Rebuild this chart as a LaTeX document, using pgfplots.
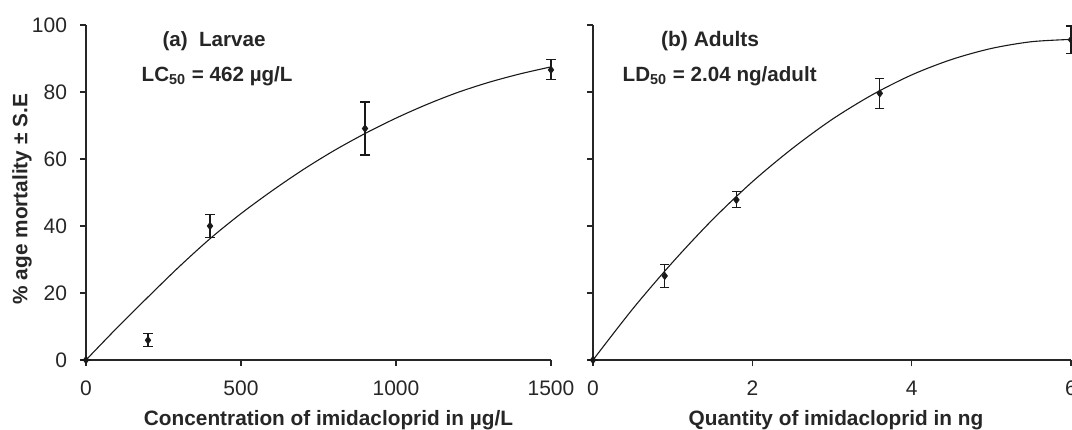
\documentclass[border=0pt]{standalone}
\usepackage{pgfplots}
\pgfplotsset{compat=1.18}
\usepackage{fontspec}
\setmainfont{Liberation Sans}

\newcommand\lblfont{\bfseries\fontsize{10.4bp}{12bp}\selectfont}
\pgfplotsset{
  mort/.style={
    scale only axis,
    axis lines*=left,
    height=167.5bp,
    ymin=0, ymax=100, ytick={0,20,...,100},
    tick align=outside,
    major tick length=3bp,
    axis line style={line width=0.6bp, black!85},
    tick style={line width=0.6bp, black!85},
    tick label style={font=\fontsize{10.5bp}{12bp}\selectfont, text=black!85},
    /pgf/number format/assume math mode=true,
    /pgf/number format/set thousands separator={},
    xticklabel style={yshift=-4bp},
    yticklabel style={xshift=-3bp},
    xlabel style={font=\lblfont, text=black!85, at={(axis description cs:0.5,0)}, anchor=center, yshift=-30bp},
    ylabel style={font=\lblfont, text=black!85},
    clip=false,
    anchor=south west,
  },
  fit/.style={line width=0.55bp, black!90, no marks, smooth},
  pts/.style={only marks, mark=diamond*, mark size=1.8bp, black!90,
    error bars/.cd, y dir=both, y explicit,
    error bar style={line width=0.55bp, black!90},
    error mark options={rotate=90, mark size=2.3bp, line width=0.55bp, black!90}},
}

\begin{document}
\begin{tikzpicture}
\useasboundingbox (0,0) rectangle (536bp,215bp);
\clip (0,0) rectangle (536bp,215bp);

% (a) larvae
\begin{axis}[mort,
  at={(43bp,35bp)},
  width=232.5bp,
  xmin=0, xmax=1500, xtick={0,500,1000,1500},
  xlabel={Concentration of imidacloprid in µg/L},
  xlabel style={xshift=5bp},
  ylabel={\% age mortality ± S.E},
  ylabel style={at={(axis description cs:0,0.48)}, anchor=center, rotate=0, yshift=32bp},
]
\addplot[fit] coordinates {
  (0,0) (100,9.6) (200,18.8) (300,27.8) (400,36.2) (500,43.7) (600,50.5)
  (700,56.8) (800,62.5) (900,67.6) (1000,72.2) (1100,76.3) (1200,79.9)
  (1300,82.9) (1400,85.4) (1500,87.5)
};
\addplot[pts] coordinates {
  (0,0) +- (0,0)
  (200,5.9) +- (0,1.9)
  (400,40.0) +- (0,3.3)
  (900,69.1) +- (0,7.9)
  (1500,86.6) +- (0,3.0)
};
\node[font=\bfseries\fontsize{10.3bp}{12bp}\selectfont, text=black!85] at (axis cs:413,95.2) {(a)\ \ Larvae};
\node[font=\bfseries\fontsize{10.3bp}{12bp}\selectfont, text=black!85] at (axis cs:423,84.8) {LC\textsubscript{50} = 462 µg/L};
\end{axis}

% (b) adults
\begin{axis}[mort,
  at={(296.5bp,35bp)},
  width=239bp,
  xmin=0, xmax=6, xtick={0,2,4,6},
  yticklabels={},
  xlabel={Quantity of imidacloprid in ng},
  xlabel style={xshift=2bp},
]
\addplot[fit] coordinates {
  (0,0) (0.5,15.3) (1,29.2) (1.5,41.9) (2,53.2) (2.5,63.1) (3,71.8)
  (3.5,79.1) (4,85.1) (4.5,89.7) (5,93.0) (5.5,95.0) (6,95.7)
};
\addplot[pts] coordinates {
  (0,0) +- (0,0)
  (0.9,25.1) +- (0,3.5)
  (1.8,47.8) +- (0,2.4)
  (3.6,79.6) +- (0,4.5)
  (6,95.6) +- (0,4.1)
};
\node[font=\bfseries\fontsize{10.5bp}{12bp}\selectfont, text=black!85] at (axis cs:1.47,95.2) {(b) Adults};
\node[font=\bfseries\fontsize{10.3bp}{12bp}\selectfont, text=black!85] at (axis cs:1.59,84.8) {LD\textsubscript{50} = 2.04 ng/adult};
\end{axis}
\end{tikzpicture}
\end{document}
